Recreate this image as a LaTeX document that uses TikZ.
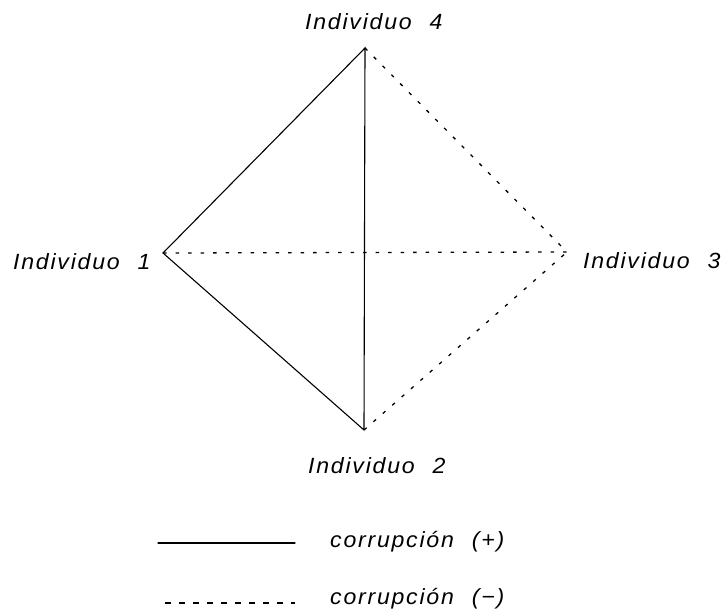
\documentclass[tikz,border=0pt]{standalone}
\usepackage{fontspec}
\setmainfont{Liberation Sans}[LetterSpace=8,WordSpace=2.2,FakeStretch=1.05]
\begin{document}
\begin{tikzpicture}[x=1pt,y=-1pt,
  lbl/.style={inner sep=0pt,anchor=base west,font=\fontsize{22}{22}\selectfont\itshape},
  posline/.style={line width=1.1pt,line cap=round,line join=miter},
  negline/.style={line width=1.3pt,dash pattern=on 3.5pt off 9pt},
  legneg/.style={line width=1.2pt,dash pattern=on 6pt off 8pt}]
\useasboundingbox (0,0) rectangle (723,610);
\coordinate (v4) at (365,48);
\coordinate (v1) at (163,253);
\coordinate (v3) at (567,252);
\coordinate (v2) at (364,430);
\draw[posline] (v2) -- (v1) -- (v4) -- (v2);
\draw[negline] (v1) -- (v3);
\draw[negline] (v4) -- (v3);
\draw[negline] (v2) -- (v3);
\node[lbl] (n4) at (305,30) {Individuo 4};
\node[lbl] (n1) at (13,269) {Individuo 1};
\node[lbl] (n3) at (583,268) {Individuo 3};
\node[lbl] (n2) at (308,473) {Individuo 2};
\coordinate (la) at (158,543);
\coordinate (lb) at (295,543);
\coordinate (lc) at (165,603);
\coordinate (ld) at (295,603);
\draw[posline] (la) -- (lb);
\draw[legneg] (lc) -- (ld);
\node[lbl] (t1) at (330,547) {corrupción (+)};
\node[lbl] (t2) at (330,604) {corrupción (−)};
\end{tikzpicture}
\end{document}
